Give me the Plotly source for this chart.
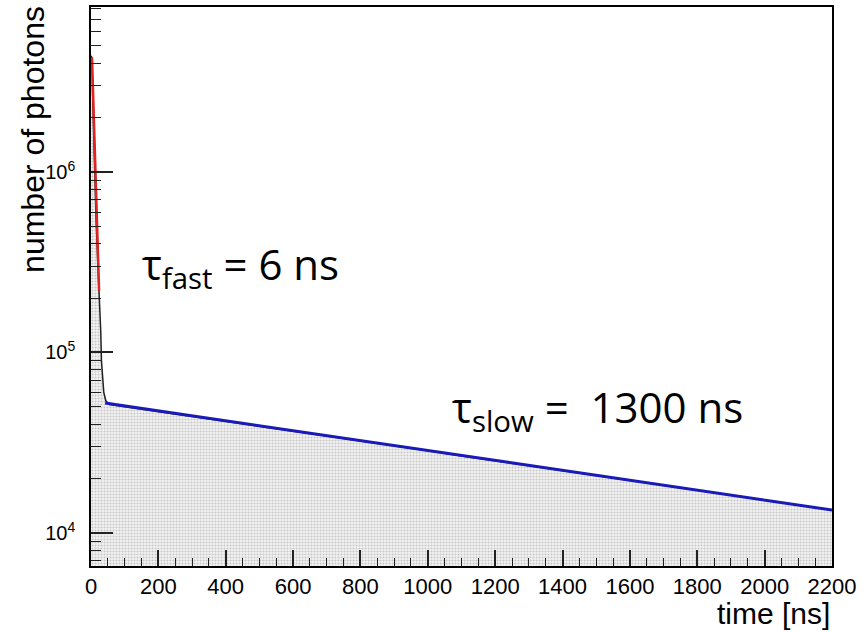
import plotly.graph_objects as go

# ---- data ----
hist_t = [0, 3, 5, 10, 15, 20, 24, 27, 29, 31, 34, 38, 44, 55,
          100, 200, 300, 400, 500, 600, 700, 800, 900, 1000, 1100,
          1200, 1300, 1400, 1500, 1600, 1700, 1800, 1900, 2000, 2100, 2200]
hist_n = [4.4e6, 4.3e6, 2.6e6, 1.1e6, 5.5e5, 3.2e5, 2.2e5, 1.9e5, 1.3e5, 9.0e4, 7.0e4, 6.0e4, 5.4e4, 5.15e4,
          5.01e4, 4.71e4, 4.42e4, 4.15e4, 3.90e4, 3.66e4, 3.44e4, 3.23e4, 3.03e4, 2.85e4, 2.67e4,
          2.51e4, 2.36e4, 2.21e4, 2.08e4, 1.95e4, 1.83e4, 1.72e4, 1.62e4, 1.52e4, 1.43e4, 1.34e4]

fast_t = [3, 24]
fast_n = [4.3e6, 2.2e5]

slow_t = [42, 2200]
slow_n = [5.25e4, 1.34e4]

x_ticks = [0, 200, 400, 600, 800, 1000, 1200, 1400, 1600, 1800, 2000, 2200]
y_decades = [4, 5, 6]
y_ticks = [10 ** e for e in y_decades]
y_ticktext = ["10<sup>%d</sup>" % e for e in y_decades]

minor_y = [m * 10 ** e for e in [3, 4, 5, 6] for m in range(2, 10)]

fig = go.Figure()

fig.add_trace(go.Scatter(
    x=hist_t, y=hist_n, mode="lines",
    line=dict(color="#222222", width=1.5),
    fill="tozeroy",
    fillcolor="rgba(0,0,0,0)",
    fillpattern=dict(shape=".", fgcolor="#9a9a9a", bgcolor="#f3f3f3", size=3, solidity=0.4),
    hoverinfo="skip", showlegend=False,
))
fig.add_trace(go.Scatter(
    x=fast_t, y=fast_n, mode="lines",
    line=dict(color="#e3231f", width=2.5), showlegend=False,
))
fig.add_trace(go.Scatter(
    x=slow_t, y=slow_n, mode="lines",
    line=dict(color="#1a1ab8", width=3), showlegend=False,
))

x_font = dict(family="Liberation Sans, Arial, sans-serif", size=22, color="black")
y_font = dict(family="Liberation Sans, Arial, sans-serif", size=20, color="black")

fig.update_layout(
    width=868, height=632,
    margin=dict(l=91, r=36, t=7, b=66),
    paper_bgcolor="white", plot_bgcolor="white",
    showlegend=False,
    xaxis=dict(
        range=[0, 2200], tickmode="array", tickvals=x_ticks,
        ticktext=[str(v) for v in x_ticks],
        ticks="inside", ticklen=16, tickwidth=1.5, tickcolor="#222",
        minor=dict(ticks="inside", ticklen=8, tickwidth=1.2, tickcolor="#222", dtick=50, showgrid=False),
        showline=True, linecolor="black", linewidth=1.5, mirror=True,
        showgrid=False, zeroline=False, tickfont=x_font,
        ticklabelstandoff=0, automargin=False,
    ),
    yaxis=dict(
        type="log", range=[3.817, 6.914],
        tickmode="array", tickvals=y_ticks, ticktext=y_ticktext,
        ticks="inside", ticklen=22, tickwidth=1.5, tickcolor="#222",
        minor=dict(ticks="inside", ticklen=10, tickwidth=1.2, tickcolor="#222",
                   tickmode="array", tickvals=minor_y, showgrid=False),
        showline=True, linecolor="black", linewidth=1.5, mirror=True,
        showgrid=False, zeroline=False, tickfont=y_font,
        ticklabelstandoff=10, automargin=False,
    ),
)

title_font = dict(family="Liberation Sans, Arial, sans-serif", size=32, color="black")
fig.add_annotation(
    text="number of photons", textangle=-90, xref="paper", yref="paper",
    x=-0.078, y=1.005, xanchor="center", yanchor="top", showarrow=False, font=title_font,
)
fig.add_annotation(
    text="time [ns]", xref="paper", yref="paper",
    x=1.0, y=(566 - 614) / 559, xanchor="right", yanchor="middle", showarrow=False,
    font=dict(family="Liberation Sans, Arial, sans-serif", size=30, color="black"),
)

label_font = dict(family="Open Sans, sans-serif", size=42, color="black")
fig.add_annotation(
    text="τ<sub>fast</sub> = 6 ns", xref="paper", yref="paper",
    x=(140 - 91) / 741, y=(566 - 266) / 559, xanchor="left", yanchor="middle",
    showarrow=False, font=label_font,
)
fig.add_annotation(
    text="τ<sub>slow</sub> =  1300 ns", xref="paper", yref="paper",
    x=(450 - 91) / 741, y=(566 - 409) / 559, xanchor="left", yanchor="middle",
    showarrow=False, font=label_font,
)

fig.write_html(
    "out.html",
    config={"displayModeBar": False},
    post_script="document.body.style.margin='0';document.body.style.padding='0';",
)
